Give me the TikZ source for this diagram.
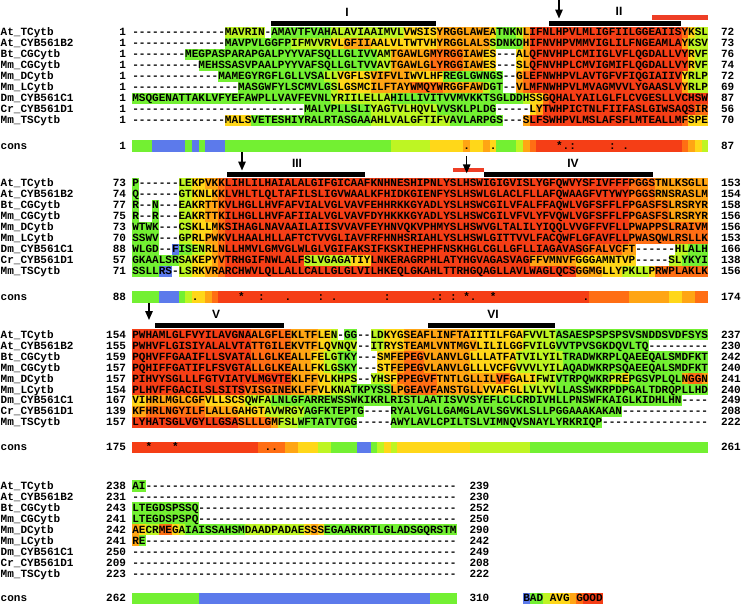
\documentclass[tikz,border=0pt]{standalone}
\usepackage{fontspec}
\usetikzlibrary{arrows.meta}
\newfontfamily\monof{Liberation Mono}
\newfontfamily\labf{Liberation Sans}
\definecolor{cw}{RGB}{255,255,255}
\definecolor{cb}{RGB}{92,122,235}
\definecolor{cg}{RGB}{115,240,50}
\definecolor{cl}{RGB}{190,245,35}
\definecolor{cy}{RGB}{255,215,25}
\definecolor{co}{RGB}{255,165,20}
\definecolor{ca}{RGB}{255,110,20}
\definecolor{cr}{RGB}{245,62,22}
\definecolor{barred}{RGB}{238,62,38}
\newcount\runstart
\newcount\dcnt
\def\cellw{6.621}
\def\xo{132.3}
\newcommand\D[1]{\dcnt=#1\relax\Dloop}
\def\Dloop{\ifnum\dcnt>0 -\advance\dcnt by -1\relax\expandafter\Dloop\fi}
\newcommand\paintruns[4]{%
  \global\runstart=0\relax
  \foreach \rn/\rc in {#4}{%
    \fill[fill=c\rc] ({#1+\the\runstart*\cellw},{#2-#3/2}) rectangle ++({\rn*\cellw},#3);
    \global\advance\runstart by \rn\relax
  }%
}
\newcommand\seqrow[7]{%
  \node[txt,anchor=base west] (#1n) at (0.7,{#2+3.3}) {#3};
  \node[txt,anchor=base east] (#1a) at (126,{#2+3.3}) {#4};
  \node[txt,anchor=base west] (#1s) at (\xo,{#2+3.3}) {#5};
  \node[txt,anchor=base west] (#1e) at (#7,{#2+3.3}) {#6};
}
\newcommand\cmark[4]{\node[txt,anchor=base] (#1) at ({\xo+(#3+0.5)*\cellw},{#2+3.3}) {#4};}
\begin{document}
\begin{tikzpicture}[x=1pt,y=-1pt,
  txt/.style={inner sep=0pt,outer sep=0pt,font=\monof\bfseries\fontsize{11.03pt}{12pt}\selectfont},
  lab/.style={inner sep=0pt,outer sep=0pt,font=\labf\bfseries\fontsize{12pt}{12pt}\selectfont},
  bar/.style={fill=black},
  redbar/.style={fill=barred},
  arr/.style={line width=1.4pt,-{Triangle[length=9pt,width=7.5pt]}}]
\useasboundingbox (0,0) rectangle (741,605);

% ---------------- headers
\fill[bar] (270.5,21) rectangle (436,26.2);
\fill[bar] (549,21) rectangle (681,26.2);
\fill[redbar] (652,15) rectangle (708,19.5);
\node[lab] (lI) at (347,12.2) {I};
\node[lab] (lII) at (619,11.5) {II};
\coordinate (a1s) at (559,0); \coordinate (a1e) at (559,18.5);
\draw[arr] (a1s) -- (a1e);

\fill[bar] (227,171.8) rectangle (365,177.3);
\fill[redbar] (453,167.7) rectangle (484,172.3);
\fill[bar] (484,171.8) rectangle (653.3,177.3);
\node[lab] (lIII) at (297,163) {III};
\node[lab] (lIV) at (573,163) {IV};
\coordinate (a2s) at (242,152.3); \coordinate (a2e) at (242,170.5);
\draw[arr] (a2s) -- (a2e);
\coordinate (a3s) at (466.7,156); \coordinate (a3e) at (466.7,173.3);
\draw[arr] (a3s) -- (a3e);

\fill[bar] (155,322.8) rectangle (284.3,328.3);
\fill[bar] (427.7,322.8) rectangle (555,328.3);
\node[lab] (lV) at (216,314) {V};
\node[lab] (lVI) at (493,314) {VI};
\coordinate (a4s) at (149,301.7); \coordinate (a4e) at (149,320);
\draw[arr] (a4s) -- (a4e);

% ---------------- block 1 colours
\paintruns{\xo}{32.5}{11.05}{14/w,6/l,1/w,9/g,11/l,5/y,8/o,1/y,3/g,1/l,1/o,23/r,1/a,1/y,2/l}
\paintruns{\xo}{43.48}{11.05}{14/w,10/g,6/l,2/y,4/o,10/y,8/o,1/l,4/g,1/o,23/r,1/o,3/l}
\paintruns{\xo}{54.46}{11.05}{8/w,29/g,2/l,6/o,5/a,3/o,2/y,3/w,1/y,1/o,24/r,1/y,2/l}
\paintruns{\xo}{65.44}{11.05}{10/w,27/g,2/l,6/o,5/a,3/o,2/y,3/w,1/y,1/o,24/r,1/y,2/l}
\paintruns{\xo}{76.42}{11.05}{13/w,16/g,2/l,5/y,6/o,5/y,9/g,2/w,1/o,1/a,23/r,1/y,3/l}
\paintruns{\xo}{87.4}{11.05}{16/w,14/g,1/l,5/y,6/o,5/a,6/o,1/l,2/g,2/w,1/o,1/a,23/r,1/o,3/l}
\paintruns{\xo}{98.38}{11.05}{30/g,9/l,20/g,1/l,2/y,1/a,24/r}
\paintruns{\xo}{109.36}{11.05}{26/w,10/g,10/l,9/g,5/w,1/y,1/o,23/r,2/a}
\paintruns{\xo}{120.34}{11.05}{14/w,4/y,18/g,12/l,8/g,3/w,1/o,23/r,1/a,3/y}
\paintruns{\xo}{146}{11.6}{3/g,5/b,1/g,1/b,1/g,3/b,25/g,6/l,5/y,1/o,2/y,1/o,1/y,3/g,1/l,1/o,1/a,22/r,1/a,1/o,1/y,1/l}

% ---------------- block 2 colours
\paintruns{\xo}{183.6}{11.05}{1/g,6/w,2/l,2/y,2/o,1/a,61/r,4/a,8/o}
\paintruns{\xo}{194.58}{11.05}{1/g,6/w,2/l,3/y,1/o,1/a,61/r,4/a,8/o}
\paintruns{\xo}{205.56}{11.05}{1/g,2/w,1/g,3/w,2/l,2/y,2/o,1/a,61/r,6/a,6/o}
\paintruns{\xo}{216.54}{11.05}{1/g,2/w,1/g,3/w,2/l,2/y,2/o,1/a,61/r,6/a,6/o}
\paintruns{\xo}{227.52}{11.05}{4/g,3/w,2/l,3/y,1/o,1/a,61/r,12/a}
\paintruns{\xo}{238.5}{11.05}{4/g,3/w,2/l,2/y,2/o,1/a,61/r,12/a}
\paintruns{\xo}{249.48}{11.05}{4/g,2/w,1/b,2/g,2/l,1/y,1/o,1/a,54/r,6/a,2/o,6/w,2/l,3/g}
\paintruns{\xo}{260.46}{11.05}{7/g,2/l,3/y,1/o,1/a,12/r,7/l,3/y,24/r,7/o,9/y,5/w,2/l,4/g}
\paintruns{\xo}{271.44}{11.05}{4/g,2/b,1/w,2/l,2/y,2/o,1/a,53/r,4/o,3/y,4/l,1/y,8/a}
\paintruns{\xo}{296.8}{11.6}{4/g,3/b,1/g,1/l,2/y,1/o,1/a,56/r,6/a,6/o,2/y,2/o,2/a}

% ---------------- block 3 colours
\paintruns{\xo}{334.8}{11.05}{18/r,6/a,4/o,2/y,1/l,1/w,2/g,2/w,2/l,3/y,10/o,8/y,5/l,23/g}
\paintruns{\xo}{345.78}{11.05}{18/r,6/a,4/o,2/y,4/l,2/w,2/l,3/y,11/o,7/y,5/l,14/g,9/w}
\paintruns{\xo}{356.76}{11.05}{18/r,6/a,3/o,2/y,2/l,3/g,3/w,2/y,2/o,3/a,7/o,7/y,7/l,22/g}
\paintruns{\xo}{367.74}{11.05}{18/r,6/a,3/o,2/y,2/l,3/g,3/w,2/y,2/o,3/a,7/o,7/y,7/l,22/g}
\paintruns{\xo}{378.72}{11.05}{24/r,4/o,2/y,4/l,2/w,2/l,2/y,6/a,9/o,2/a,4/y,3/l,8/g,2/l,1/y,8/g,1/o,2/a,1/o}
\paintruns{\xo}{389.7}{11.05}{17/r,7/a,4/o,2/y,3/l,6/g,2/o,5/a,7/o,6/y,5/l,23/g}
\paintruns{\xo}{400.68}{11.05}{2/y,9/o,6/y,4/l,62/g,4/w}
\paintruns{\xo}{411.66}{11.05}{2/o,9/a,5/o,4/y,6/l,9/g,4/w,35/g,13/w}
\paintruns{\xo}{422.64}{11.05}{16/r,5/a,1/o,3/l,9/g,5/w,32/g,16/w}
\paintruns{\xo}{447.5}{11.6}{19/r,4/a,2/o,3/y,2/l,4/g,2/b,1/g,1/l,1/y,1/l,11/y,9/l,27/g}

% ---------------- block 4 colours
\paintruns{\xo}{486}{11.05}{2/g,47/w}
\paintruns{\xo}{507.96}{11.05}{10/g,39/w}
\paintruns{\xo}{518.94}{11.05}{10/g,39/w}
\paintruns{\xo}{529.92}{11.05}{1/o,1/y,2/l,2/a,1/y,1/l,9/g,9/l,1/y,1/o,1/y,20/g}
\paintruns{\xo}{540.9}{11.05}{1/o,1/g,47/w}
\paintruns{\xo}{598.3}{11.6}{10/g,35/b,4/g}
\paintruns{523.3}{598.3}{11.6}{1/b,2/g,1/l,3/y,1/o,1/a,3/r}

% ---------------- block 1 text
\seqrow{ba}{32.5}{At\_TCytb}{1}{\D{14}MAVRIN-AMAVTFVAHALAVIAAIMVLVWSISYRGGLAWEATNKNLIFNLHPVLMLIGFIILGGEAIISYKSL}{72}{721}
\seqrow{bb}{43.48}{At\_CYB561B2}{1}{\D{14}MAVPVLGGFPIFMVVRVLGFIIAALVLTWTVHYRGGLALSSDNKDHIFNVHPVMMVIGLILFNGEAMLAYKSV}{73}{721}
\seqrow{bc}{54.46}{Bt\_CGCytb}{1}{\D{8}MEGPASPARAPGALPYYVAFSQLLGLIVVAMTGAWLGMYRGGIAWES\D{3}ALQFNVHPLCMIIGLVFLQGDALLVYRVF}{76}{721}
\seqrow{bd}{65.44}{Mm\_CGCytb}{1}{\D{10}MEHSSASVPAALPYYVAFSQLLGLTVVAVTGAWLGLYRGGIAWES\D{3}SLQFNVHPLCMVIGMIFLQGDALLVYRVF}{74}{721}
\seqrow{be}{76.42}{Mm\_DCytb}{1}{\D{13}MAMEGYRGFLGLLVSALLVGFLSVIFVLIWVLHFREGLGWNGS\D{2}GLEFNWHPVLAVTGFVFIQGIAIIVYRLP}{72}{721}
\seqrow{bf}{87.4}{Mm\_LCytb}{1}{\D{16}MASGWFYLSCMVLGSLGSMCILFTAYWMQYWRGGFAWDGT\D{2}VLMFNWHPVLMVAGMVVLYGAASLVYRLP}{69}{721}
\seqrow{bg}{98.38}{Dm\_CYB561C1}{1}{MSQGENATTAKLVFYEFAWPLLVAVFEVNLYRIILELLAHILLIVITVVMVKKTSGLDDHSSGQHALYAILGLFLCVGESLLVCHSW}{87}{721}
\seqrow{bh}{109.36}{Cr\_CYB561D1}{1}{\D{26}MALVPLLSLIYAGTVLHQVLVVSKLPLDG\D{5}LYTWHPICTNLFIIFASLGIWSAQSIR}{56}{721}
\seqrow{bi}{120.34}{Mm\_TSCytb}{1}{\D{14}MALSVETESHIYRALRTASGAAAHLVALGFTIFVAVLARPGS\D{3}SLFSWHPVLMSLAFSFLMTEALLMFSPE}{70}{721}
\seqrow{bk}{146}{cons}{1}{}{87}{721}
\cmark{m1a}{146}{50}{.}\cmark{m1b}{146}{54}{.}\cmark{m1c}{146}{64}{*}\cmark{m1d}{146}{65}{.}
\cmark{m1e}{146}{66}{:}\cmark{m1f}{146}{72}{:}\cmark{m1g}{146}{74}{.}

% ---------------- block 2 text
\seqrow{ca}{183.6}{At\_TCytb}{73}{P\D{6}LEKPVKKLIHLILHAIALALGIFGICAAFKNHNESHIPNLYSLHSWIGIGVISLYGFQWVYSFIVFFFPGGSTNLKSGLL}{153}{721}
\seqrow{cb}{194.58}{At\_CYB561B2}{74}{Q\D{6}GTKNLKKLVHLTLQLTAFILSLIGVWAALKFHIDKGIENFYSLHSWLGLACLFLLAFQWAAGFVTYWYPGGSRNSRASLM}{154}{721}
\seqrow{cc}{205.56}{Bt\_CGCytb}{77}{R\D{2}N\D{3}EAKRTTKVLHGLLHVFAFVIALVGLVAVFEHHRKKGYADLYSLHSWCGILVFALFFAQWLVGFSFFLFPGASFSLRSRYR}{158}{721}
\seqrow{cd}{216.54}{Mm\_CGCytb}{75}{R\D{2}R\D{3}EAKRTTKILHGLLHVFAFIIALVGLVAVFDYHKKKGYADLYSLHSWCGILVFVLYFVQWLVGFSFFLFPGASFSLRSRYR}{156}{721}
\seqrow{ce}{227.52}{Mm\_DCytb}{73}{WTWK\D{3}CSKLLMKSIHAGLNAVAAILAIISVVAVFEYHNVQKVPHMYSLHSWVGLTALILYIQQLVVGFFVFLLPWAPPSLRAIVM}{156}{721}
\seqrow{cf}{238.5}{Mm\_LCytb}{70}{SSWV\D{3}GPRLPWKVLHAALHLLAFTCTVVGLIAVFRFHNHSRIAHLYSLHSWLGITTVVLFACQWFLGFAVFLLPWASQWLRSLLK}{153}{721}
\seqrow{cg}{249.48}{Dm\_CYB561C1}{88}{WLGD\D{2}FISENRLNLLHMVLGMVGLWLGLVGIFAKSIFKSKIHEPHFNSKHGLCGLLGFLLIAGAVASGFALVCFT\D{6}HLALH}{166}{721}
\seqrow{ch}{260.46}{Cr\_CYB561D1}{57}{GKAALSRSAKEPYVTRHGIFNWLALFSLVGAGATIYLNKERAGRPHLATYHGVAGASVAGFFVMNVFGGGAMNTVP\D{5}SLYKYI}{138}{721}
\seqrow{ci}{271.44}{Mm\_TSCytb}{71}{SSLLRS-LSRKVRARCHWVLQLLALLCALLGLGLVILHKEQLGKAHLTTRHGQAGLLAVLWAGLQCSGGMGLLYPKLLPRWPLAKLK}{156}{721}
\seqrow{ck}{296.8}{cons}{88}{}{174}{721}
\cmark{m2a}{296.8}{9}{.}\cmark{m2b}{296.8}{16}{*}\cmark{m2c}{296.8}{19}{:}\cmark{m2d}{296.8}{23}{.}
\cmark{m2e}{296.8}{28}{:}\cmark{m2f}{296.8}{30}{.}\cmark{m2g}{296.8}{38}{:}\cmark{m2h}{296.8}{45}{.}
\cmark{m2i}{296.8}{46}{:}\cmark{m2j}{296.8}{48}{:}\cmark{m2k}{296.8}{50}{*}\cmark{m2l}{296.8}{51}{.}
\cmark{m2m}{296.8}{54}{*}\cmark{m2n}{296.8}{68}{.}

% ---------------- block 3 text
\seqrow{da}{334.8}{At\_TCytb}{154}{PWHAMLGLFVYILAVGNAALGFLEKLTFLEN-GG\D{2}LDKYGSEAFLINFTAIITILFGAFVVLTASAESPSPSPSVSNDDSVDFSYS}{237}{721}
\seqrow{db}{345.78}{At\_CYB561B2}{155}{PWHVFLGISIYALALVTATTGILEKVTFLQVNQV\D{2}ITRYSTEAMLVNTMGVLILILGGFVILGVVTPVSGKDQVLTQ\D{9}}{230}{721}
\seqrow{dc}{356.76}{Bt\_CGCytb}{159}{PQHVFFGAAIFLLSVATALLGLKEALLFELGTKY\D{3}SMFEPEGVLANVLGLLLATFATVILYILTRADWKRPLQAEEQALSMDFKT}{242}{721}
\seqrow{dd}{367.74}{Mm\_CGCytb}{157}{PQHIFFGATIFLFSVGTALLGLKEALLFKLGSKY\D{3}STFEPEGVLANVLGLLLVCFGVVVLYILAQADWKRPSQAEEQALSMDFKT}{240}{721}
\seqrow{de}{378.72}{Mm\_DCytb}{157}{PIHVYSGLLLFGTVIATVLMGVTEKLFFVLKHPS\D{2}YHSFPPEGVFTNTLGLLILVFGALIFWIVTRPQWKRPREPGSVPLQLNGGN}{241}{721}
\seqrow{df}{389.7}{Mm\_LCytb}{154}{PLHVFFGACILSLSITSVISGINEKLFFVLKNATKPYSSLPGEAVFANSTGLLVVAFGLLVLYVLLASSWKRPDPGALTDRQPLLHD}{240}{721}
\seqrow{dg}{400.68}{Dm\_CYB561C1}{167}{VIHRLMGLCGFVLLSCSQWFALNLGFARREWSSWKIKRLRISTLAATISVVSYEFLCLCRDIVHLLPNSWFKAIGLKIDHLHN\D{4}}{249}{721}
\seqrow{dh}{411.66}{Cr\_CYB561D1}{139}{KFHRLNGYILFLALLGAHGTAVWRGYAGFKTEPTG\D{4}RYALVGLLGAMGLAVLSGVKLSLLPGGAAAKAKAN\D{13}}{208}{721}
\seqrow{di}{422.64}{Mm\_TSCytb}{157}{LYHATSGLVGYLLGSASLLLGMFSLWFTATVTGG\D{5}AWYLAVLCPILTSLVIMNQVSNAYLYRKRIQP\D{16}}{222}{721}
\seqrow{dk}{447.5}{cons}{175}{}{261}{721}
\cmark{m3a}{447.5}{2}{*}\cmark{m3b}{447.5}{6}{*}\cmark{m3c}{447.5}{20}{.}\cmark{m3d}{447.5}{21}{.}

% ---------------- block 4 text
\seqrow{ea}{486}{At\_TCytb}{238}{AI\D{47}}{239}{469.5}
\seqrow{eb}{496.98}{At\_CYB561B2}{231}{\D{49}}{230}{469.5}
\seqrow{ec}{507.96}{Bt\_CGCytb}{243}{LTEGDSPSSQ\D{39}}{252}{469.5}
\seqrow{ed}{518.94}{Mm\_CGCytb}{241}{LTEGDSPSPQ\D{39}}{250}{469.5}
\seqrow{ee}{529.92}{Mm\_DCytb}{242}{AECRMEGAIAISSAHSMDAADPADAESSSEGAARKRTLGLADSGQRSTM}{290}{469.5}
\seqrow{ef}{540.9}{Mm\_LCytb}{241}{RE\D{47}}{242}{469.5}
\seqrow{eg}{551.88}{Dm\_CYB561C1}{250}{\D{49}}{249}{469.5}
\seqrow{eh}{562.86}{Cr\_CYB561D1}{209}{\D{49}}{208}{469.5}
\seqrow{ei}{573.84}{Mm\_TSCytb}{223}{\D{49}}{222}{469.5}
\seqrow{ek}{598.3}{cons}{262}{}{310}{469.5}
\node[txt,anchor=base west] (legend) at (523.3,601.6) {BAD AVG GOOD};
\end{tikzpicture}
\end{document}
